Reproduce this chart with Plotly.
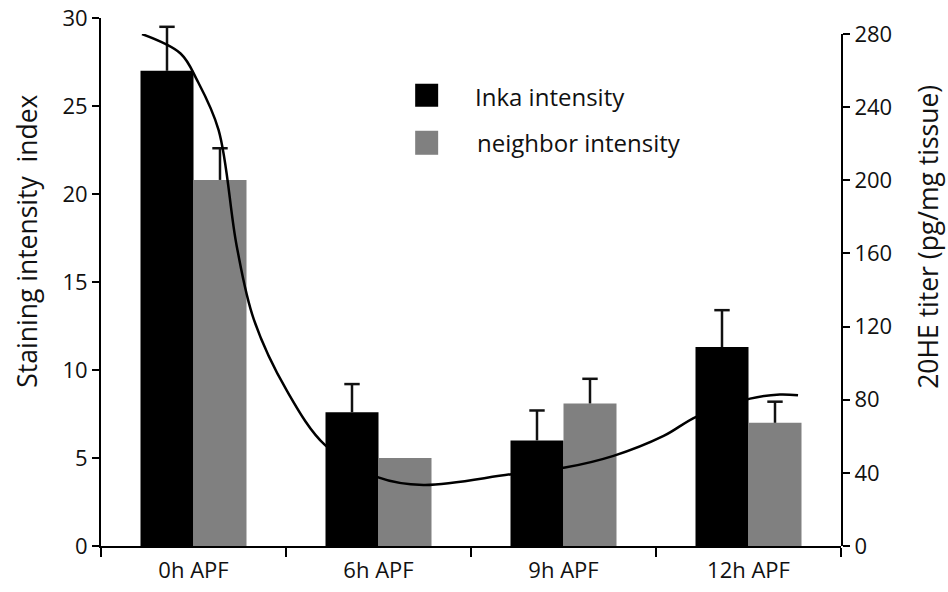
import plotly.graph_objects as go

categories = ["0h APF", "6h APF", "9h APF", "12h APF"]
inka = [27.0, 7.6, 6.0, 11.3]
inka_err = [2.5, 1.6, 1.7, 2.1]
neighbor = [20.8, 5.0, 8.1, 7.0]
neighbor_err = [1.8, None, 1.4, 1.2]

# 20HE titer curve (hours APF, pg/mg tissue)
titer_hours = [0.0, 0.70, 1.00, 1.39, 1.72, 2.03, 2.63, 3.33,
               4.29, 5.11, 6.71, 7.68, 8.56, 9.47, 10.07, 11.04, 11.58, 11.91]
titer_vals = [280, 269.4, 254.8, 227.6, 164, 124, 85, 55,
              37.5, 33.4, 39.3, 42.9, 49.3, 60.2, 70.8, 80.6, 82.9, 82.4]

FONT = "Open Sans"
BARGAP = 0.427
Y_MAX = 30
Y2_TOP_TICK = 280
Y2_MAX = 288.8  # right scale value at the top of the plot area

n_series = 2
bar_w = (1 - BARGAP) / n_series
cat_idx = list(range(len(categories)))
inka_pos = [i - bar_w / 2 for i in cat_idx]
neighbor_pos = [i + bar_w / 2 for i in cat_idx]

def tops(vals, errs):
    return [None if e is None else v + e for v, e in zip(vals, errs)]

fig = go.Figure()
fig.add_trace(go.Bar(
    x=categories, y=inka, name="Inka intensity",
    marker=dict(color="#000000", line=dict(width=0)),
    error_y=dict(type="data", symmetric=False, array=inka_err,
                 arrayminus=[0] * len(inka_err), color="#111111",
                 thickness=2.5, width=0),
))
fig.add_trace(go.Bar(
    x=categories, y=neighbor, name="neighbor intensity",
    marker=dict(color="#808080", line=dict(width=0)),
    error_y=dict(type="data", symmetric=False,
                 array=[0 if e is None else e for e in neighbor_err],
                 arrayminus=[0] * len(neighbor_err), color="#111111",
                 thickness=2.5, width=0),
))
# error-bar caps (top only)
for pos, vals, errs in [(inka_pos, inka, inka_err), (neighbor_pos, neighbor, neighbor_err)]:
    fig.add_trace(go.Scatter(
        x=pos, y=tops(vals, errs), xaxis="x3", mode="markers",
        marker=dict(symbol="line-ew", size=11, line=dict(width=2.5, color="#111111")),
        showlegend=False, hoverinfo="skip",
    ))
fig.add_trace(go.Scatter(
    x=titer_hours, y=titer_vals, xaxis="x2", yaxis="y2",
    mode="lines", line=dict(color="#000000", width=2.5, shape="spline", smoothing=1.0),
    name="20HE titer", showlegend=False, cliponaxis=False,
))

# Manual legend
def px_x(p):
    return (p - 100.7) / 740.3

def px_y(p):
    return (546 - p) / 527.7

shapes = [
    dict(type="rect", xref="paper", yref="paper", x0=px_x(415), x1=px_x(438),
         y0=px_y(107), y1=px_y(84), fillcolor="#000000", line=dict(width=0)),
    dict(type="rect", xref="paper", yref="paper", x0=px_x(415), x1=px_x(438),
         y0=px_y(155), y1=px_y(131), fillcolor="#808080", line=dict(width=0)),
]
annotations = [
    dict(text="Inka intensity", xref="paper", yref="paper", x=px_x(473), y=px_y(97),
         xanchor="left", yanchor="middle", showarrow=False,
         font=dict(family=FONT, size=24, color="#111111")),
    dict(text="neighbor intensity", xref="paper", yref="paper", x=px_x(475), y=px_y(143),
         xanchor="left", yanchor="middle", showarrow=False,
         font=dict(family=FONT, size=24, color="#111111")),
    dict(text="Staining intensity\u00a0\u00a0index", xref="paper", yref="paper",
         x=px_x(27), y=px_y(241.5), xanchor="center", yanchor="middle",
         textangle=-90, showarrow=False, font=dict(family=FONT, size=26.5, color="#111111")),
    dict(text="20HE titer (pg/mg tissue)", xref="paper", yref="paper",
         x=px_x(928), y=px_y(237), xanchor="center", yanchor="middle",
         textangle=-90, showarrow=False, font=dict(family=FONT, size=26.5, color="#111111")),
]

fig.update_layout(
    template="none",
    width=948, height=592,
    margin=dict(l=101, r=107, t=18, b=46, autoexpand=False),
    paper_bgcolor="white", plot_bgcolor="rgba(0,0,0,0)",
    barmode="group", bargap=BARGAP, bargroupgap=0,
    showlegend=False,
    font=dict(family=FONT, size=22, color="#111111"),
    shapes=shapes, annotations=annotations,
    xaxis=dict(
        type="category", range=[-0.5, 3.5], automargin=False,
        showline=True, linecolor="#000000", linewidth=2,
        ticks="outside", tickson="boundaries", ticklen=9, tickwidth=2, tickcolor="#000000",
        showgrid=False, zeroline=False, ticklabelstandoff=4,
        tickfont=dict(family=FONT, size=22, color="#111111"),
    ),
    xaxis2=dict(
        domain=[0, 1], anchor="y2", range=[-0.744, 12.69], visible=False,
        showgrid=False, automargin=False,
    ),
    xaxis3=dict(
        overlaying="x", range=[-0.5, 3.5], visible=False, showgrid=False, automargin=False,
    ),
    yaxis=dict(
        range=[0, Y_MAX], tickvals=[0, 5, 10, 15, 20, 25, 30], automargin=False,
        showline=True, linecolor="#000000", linewidth=2,
        ticks="outside", ticklen=7, tickwidth=2, tickcolor="#000000",
        showgrid=False, zeroline=False,
        tickfont=dict(family=FONT, size=22, color="#111111"),
    ),
    yaxis2=dict(
        domain=[0, Y2_TOP_TICK / Y2_MAX], anchor="x2", side="right",
        range=[0, Y2_TOP_TICK], automargin=False,
        tickvals=[0, 40, 80, 120, 160, 200, 240, 280],
        showline=True, linecolor="#000000", linewidth=2,
        ticks="outside", ticklen=7, tickwidth=2, tickcolor="#000000",
        showgrid=False, zeroline=False,
        tickfont=dict(family=FONT, size=22, color="#111111"),
    ),
)

fig.write_html("out.html")
